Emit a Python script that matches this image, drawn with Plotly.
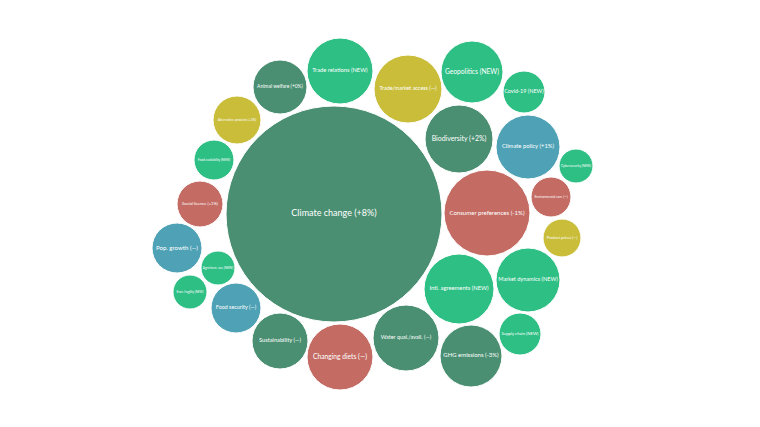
import plotly.graph_objects as go

labels = ["Climate change (+8%)", "Trade relations (NEW)", "Animal welfare (+0%)",
          "Trade/market access (—)", "Geopolitics (NEW)", "Covid-19 (NEW)",
          "Biodiversity (+2%)", "Climate policy (+1%)", "Cybersecurity (NEW)",
          "Environmental care (—)", "Consumer preferences (-1%)", "Product prices (—)",
          "Market dynamics (NEW)", "Intl. agreements (NEW)", "Supply chain (NEW)",
          "GHG emissions (-3%)", "Water qual./avail. (—)", "Changing diets (—)",
          "Sustainability (—)", "Food security (—)", "Econ. fragility (NEW)",
          "Agrichem. use (NEW)", "Pop. growth (—)", "Social licence (+1%)",
          "Food availability (NEW)", "Alternative proteins (+1%)"]
cx = [334, 340, 280, 408, 472, 524, 459, 528, 576, 551, 487, 562, 528, 459, 520,
      471, 406, 340, 280, 236, 190, 218, 177, 200, 214, 237]
cy = [214, 71, 87, 89, 72, 92, 139, 147, 166, 197, 213, 238, 280, 289, 334,
      356, 338, 357, 341, 308, 292, 268, 248, 204, 160, 120]
radius = [108, 33, 27, 34, 31, 21, 34, 32, 17, 20, 43, 19, 32, 35, 21,
          31, 33, 33, 28, 25, 17, 17, 25, 23, 20, 24]
group = ["dg", "bg", "dg", "ol", "bg", "bg", "dg", "bl", "bg", "rd", "rd", "ol",
         "bg", "bg", "bg", "dg", "dg", "rd", "dg", "bl", "bg", "bg", "bl", "rd",
         "bg", "ol"]
palette = {"dg": "#4a8f72", "bg": "#2dbf84", "ol": "#c9bd3a", "rd": "#c46c64",
           "bl": "#4fa2b6"}

fig = go.Figure()
for x, y, r, g in zip(cx, cy, radius, group):
    fig.add_shape(type="circle", xref="x", yref="y",
                  x0=x - r, x1=x + r, y0=y - r, y1=y + r,
                  fillcolor=palette[g], line=dict(color="white", width=1),
                  layer="below")

sizes = [min(9.0, 1.72 * r / (0.47 * len(t))) for t, r in zip(labels, radius)]
fig.add_trace(go.Scatter(x=cx, y=cy, mode="text", text=labels,
                         textfont=dict(family="Lato", size=sizes, color="white"),
                         hoverinfo="text", showlegend=False))

fig.update_xaxes(range=[8, 768], visible=False)
fig.update_yaxes(range=[435, 8], visible=False)
fig.update_layout(width=760, height=427, margin=dict(l=0, r=0, t=0, b=0),
                  paper_bgcolor="white", plot_bgcolor="white")
fig.write_html("out.html")
